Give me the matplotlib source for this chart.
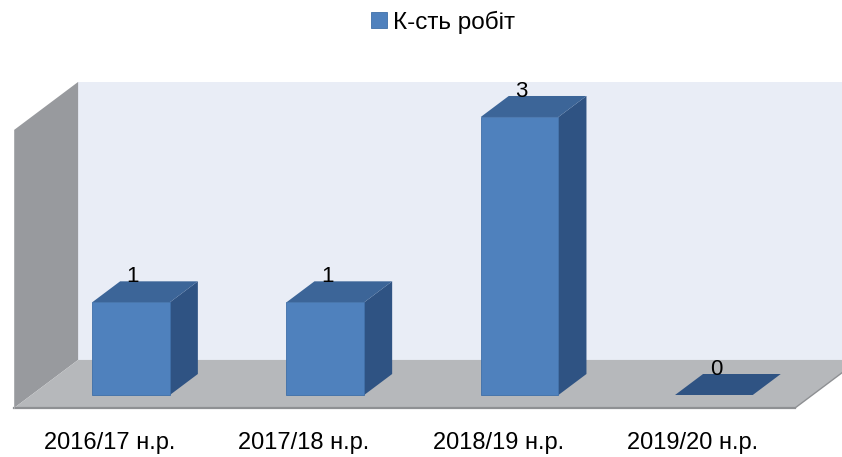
import matplotlib.pyplot as plt
from matplotlib.patches import Polygon, Patch
import matplotlib.font_manager as fm

categories = ["2016/17 н.р.", "2017/18 н.р.", "2018/19 н.р.", "2019/20 н.р."]
values = [1, 1, 3, 0]
series_name = "К-сть робіт"

# pseudo-3D projection: (x, v, z) -> data coords; z=0 bar front, z=1 bar back
DX, DY = 28 / 194.3, 21 / 92.67
Z_FRONT, Z_BACK = -0.62, 1.67
BAR_W = 0.40
WALL_TOP = 3.0

FRONT = "#4F81BD"
TOP = "#3C6598"
SIDE = "#2F5383"
FONT = "Liberation Sans"


def P(x, v, z):
    return (x + z * DX, v + z * DY)


fig = plt.figure(figsize=(8.42, 4.57), dpi=100)
ax = fig.add_axes([0, 0, 1, 1])
ax.set_xlim((0 - 131) / 194.3, (842 - 131) / 194.3)
ax.set_ylim((395 - 457) / 92.67, (395 - 0) / 92.67)
ax.axis("off")

x_left = (14 + 0.62 * 28 - 131) / 194.3
x_right = 4.2

# back wall
ax.add_patch(Polygon([P(x_left, 0, Z_BACK), P(x_right, 0, Z_BACK),
                      P(x_right, WALL_TOP, Z_BACK), P(x_left, WALL_TOP, Z_BACK)],
                     closed=True, fc="#E9EDF6", ec="none", zorder=1))
# left side wall
ax.add_patch(Polygon([P(x_left, 0, Z_FRONT), P(x_left, 0, Z_BACK),
                      P(x_left, WALL_TOP, Z_BACK), P(x_left, WALL_TOP, Z_FRONT)],
                     closed=True, fc="#989A9E", ec="none", zorder=2))
# floor
x_fr = (795 + 0.62 * 28 - 131) / 194.3
ax.add_patch(Polygon([P(x_left, 0, Z_FRONT), P(x_fr, 0, Z_FRONT),
                      P(x_fr, 0, Z_BACK), P(x_left, 0, Z_BACK)],
                     closed=True, fc="#B6B8BB", ec="none", zorder=2))
fx0, fy0 = P(x_left, 0, Z_FRONT)
fx1, fy1 = P(x_fr, 0, Z_FRONT)
ax.plot([fx0, fx1], [fy0, fy0], color="#8E9093", lw=1.6, zorder=3)
bx1, by1 = P(x_fr, 0, Z_BACK)
ax.plot([fx1, bx1], [fy1, by1], color="#8E9093", lw=1.0, zorder=3)
ax.plot([fx0, fx0], [fy0, P(x_left, WALL_TOP, Z_FRONT)[1]], color="#B0B2B5", lw=0.6, zorder=3)

# bars
for i, v in enumerate(values):
    x0, x1 = i - BAR_W / 2, i + BAR_W / 2
    top = Polygon([P(x0, v, 0), P(x1, v, 0), P(x1, v, 1), P(x0, v, 1)],
                  closed=True, fc=TOP if v > 0 else SIDE, ec="none", zorder=5)
    ax.add_patch(top)
    if v > 0:
        side = Polygon([P(x1, 0, 0), P(x1, 0, 1), P(x1, v, 1), P(x1, v, 0)],
                       closed=True, fc=SIDE, ec="none", zorder=4)
        front = Polygon([P(x0, 0, 0), P(x1, 0, 0), P(x1, v, 0), P(x0, v, 0)],
                        closed=True, fc=FRONT, ec="#3F6FA8", lw=0.6, zorder=6)
        ax.add_patch(side)
        ax.add_patch(front)
    lx, ly = P(i, v, 1)
    ax.annotate(str(v), (i + 0.01, ly), xytext=(0, -4), textcoords="offset points",
                ha="center", va="bottom", fontsize=16, color="black",
                family=FONT, zorder=7)

# category labels
for i, c in enumerate(categories):
    ax.text(i - 0.11, (395 - 443) / 92.67, c, ha="center", va="center",
            fontsize=17, family=FONT, color="black")

fig.legend(handles=[Patch(fc=FRONT, ec="#3F6FA8", lw=0.6, label=series_name)],
           loc="center", bbox_to_anchor=(443 / 842, 1 - 22 / 457), frameon=False,
           handlelength=0.65, handleheight=0.65, handletextpad=0.25,
           prop=fm.FontProperties(family=FONT, size=17.5))

fig.savefig("out.png", dpi=100)
